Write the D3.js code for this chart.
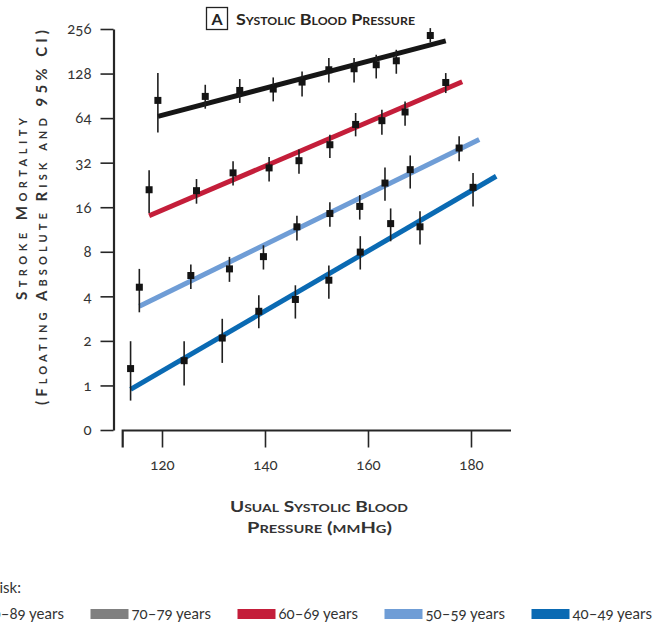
<!DOCTYPE html>
<html>
<head>
<meta charset="utf-8">
<script src="https://cdn.jsdelivr.net/npm/d3@7"></script>
<style>
  html, body { margin: 0; padding: 0; background: #fff; }
  svg { display: block; font-family: Lato, "Open Sans", sans-serif; }
</style>
</head>
<body>
<svg id="chart" width="662" height="630"></svg>
<script>
// ---------- data ----------
const seriesNames = ["70–79 years", "60–69 years", "50–59 years", "40–49 years"];
const lineColors = ["#161616", "#c41e3a", "#6f9dd6", "#0a6ab3"];

const sbp70 = [119.2, 128.4, 135.1, 141.6, 147.2, 152.4, 157.3, 161.6, 165.5, 172.1];
const risk70 = [84.3, 89.7, 98.4, 100.6, 112.1, 135.8, 137.9, 146.8, 156.2, 231.4];
const lo70 = [51.2, 74.1, 81.0, 83.0, 89.7, 111.4, 111.4, 118.6, 127.6, 207.6];
const hi70 = [129, 107.5, 117.5, 120.5, 132.2, 162.9, 162.9, 171.5, 185.3, 259.6];
const fitX70 = [119.2, 175.1], fitY70 = [65.7, 213];

const sbp60 = [117.5, 126.7, 133.8, 140.8, 146.6, 152.6, 157.6, 162.7, 167.2, 175.1];
const risk60 = [21.0, 20.7, 27.3, 29.5, 33.0, 42.3, 58.0, 61.5, 70.4, 111.4];
const lo60 = [14.6, 16.9, 22.4, 23.9, 26.9, 34.4, 48.2, 49.5, 56.9, 94.5];
const hi60 = [28.4, 24.8, 32.7, 35.0, 39.2, 49.5, 69.3, 72.9, 82.9, 129];
const fitX60 = [117.5, 178.3], fitY60 = [14.0, 112.7];

const sbp50 = [115.6, 125.6, 133.1, 139.7, 146.2, 152.6, 158.4, 163.3, 168.2, 177.7];
const risk50 = [4.61, 5.53, 6.13, 7.42, 11.8, 14.5, 16.2, 23.3, 28.7, 40.2];
const lo50 = [3.12, 4.49, 5.01, 6.07, 9.52, 11.8, 13.2, 17.7, 21.4, 32.7];
const hi50 = [6.13, 6.56, 7.39, 8.85, 14.0, 17.3, 19.3, 29.7, 35.8, 48.2];
const fitX50 = [115.6, 181.6], fitY50 = [3.43, 45.8];

const sbp40 = [113.9, 124.3, 131.7, 138.8, 145.9, 152.4, 158.5, 164.4, 170.1, 180.4];
const risk40 = [1.30, 1.47, 2.09, 3.17, 3.81, 5.14, 7.96, 12.4, 11.8, 21.8];
const lo40 = [0.79, 1.0, 1.42, 2.43, 2.83, 3.85, 6.07, 9.42, 8.95, 16.2];
const hi40 = [1.99, 1.99, 2.82, 4.07, 4.75, 6.46, 10.2, 15.7, 15.0, 27.3];
const fitX40 = [113.9, 184.9], fitY40 = [0.94, 25.9];

const yTickValues = [0.5, 1, 2, 4, 8, 16, 32, 64, 128, 256];
const yTickLabels = ["0", "1", "2", "4", "8", "16", "32", "64", "128", "256"];
const xTickValues = [120, 140, 160, 180];

const legendLabels = ["80–89 years", "70–79 years", "60–69 years", "50–59 years", "40–49 years"];
const legendColors = ["#161616", "#808080", "#c41e3a", "#6f9dd6", "#0a6ab3"];

// ---------- build ----------
const series = [
  {sbp: sbp70, risk: risk70, lo: lo70, hi: hi70, fx: fitX70, fy: fitY70},
  {sbp: sbp60, risk: risk60, lo: lo60, hi: hi60, fx: fitX60, fy: fitY60},
  {sbp: sbp50, risk: risk50, lo: lo50, hi: hi50, fx: fitX50, fy: fitY50},
  {sbp: sbp40, risk: risk40, lo: lo40, hi: hi40, fx: fitX40, fy: fitY40}
].map((s, i) => ({
  name: seriesNames[i], color: lineColors[i],
  points: s.sbp.map((x, j) => ({x, y: s.risk[j], lo: s.lo[j], hi: s.hi[j]})),
  fit: s.fx.map((x, j) => ({x, y: s.fy[j]}))
}));

const svg = d3.select("#chart");
const axisColor = "#262626";

const x = d3.scaleLinear().domain([112.37, 187.77]).range([122.7, 511]);
const y = d3.scaleLog().base(2).domain([0.5, 256]).range([430, 29]);

// Y axis
const yAxisX = 113.5;
const gy = svg.append("g").attr("transform", `translate(${yAxisX},0)`)
  .call(d3.axisLeft(y).tickValues(yTickValues)
    .tickFormat((d, i) => yTickLabels[i]).tickSize(13).tickSizeOuter(0).tickPadding(9));
gy.select(".domain").attr("stroke", axisColor).attr("stroke-width", 2.2);
gy.selectAll(".tick line").attr("stroke", axisColor).attr("stroke-width", 1.6);
gy.selectAll(".tick text").attr("fill", "#333").attr("font-size", 15)
  .style("font-variant-numeric", "oldstyle-nums").attr("font-family", "Lato, sans-serif");

// X axis
const xAxisY = 430.5;
const gx = svg.append("g").attr("transform", `translate(0,${xAxisY})`)
  .call(d3.axisBottom(x).tickValues(xTickValues).tickFormat(d3.format("d"))
    .tickSize(17).tickSizeOuter(0).tickPadding(12));
gx.select(".domain").attr("stroke", axisColor).attr("stroke-width", 2.2)
  .attr("d", `M${x.range()[0]},17V0H${x.range()[1]}`);
gx.selectAll(".tick line").attr("stroke", axisColor).attr("stroke-width", 1.6);
gx.selectAll(".tick text").attr("fill", "#333").attr("font-size", 15)
  .style("font-variant-numeric", "oldstyle-nums").attr("font-family", "Lato, sans-serif");

// Fit lines
const line = d3.line().x(d => x(d.x)).y(d => y(d.y));
svg.append("g").selectAll("path").data(series).join("path")
  .attr("d", d => line(d.fit))
  .attr("fill", "none").attr("stroke", d => d.color)
  .attr("stroke-width", 5);

// Error bars & points
const pts = svg.append("g").selectAll("g").data(series).join("g");
pts.selectAll("line").data(d => d.points).join("line")
  .attr("x1", d => x(d.x)).attr("x2", d => x(d.x))
  .attr("y1", d => y(d.lo)).attr("y2", d => y(d.hi))
  .attr("stroke", "#1e1e1e").attr("stroke-width", 1.6);
pts.selectAll("rect").data(d => d.points).join("rect")
  .attr("x", d => x(d.x) - 3.5).attr("y", d => y(d.y) - 3.5)
  .attr("width", 7).attr("height", 7).attr("fill", "#141414");

// Title
svg.append("rect").attr("x", 206.5).attr("y", 7.5).attr("width", 21).attr("height", 22)
  .attr("fill", "none").attr("stroke", "#222").attr("stroke-width", 1.3);
svg.append("text").attr("x", 217).attr("y", 25).attr("text-anchor", "middle")
  .attr("font-size", 16).attr("font-weight", 700).attr("fill", "#222").text("A");
svg.append("text").attr("x", 236).attr("y", 25)
  .attr("font-size", 16).attr("font-weight", 700).attr("fill", "#2a2520")
  .style("font-variant", "small-caps")
  .attr("textLength", 179).attr("lengthAdjust", "spacingAndGlyphs")
  .text("Systolic Blood Pressure");

// Y axis title
const yTitle = svg.append("g").attr("transform", "translate(0,0)");
yTitle.append("text").attr("transform", "translate(27,209) rotate(-90)")
  .attr("text-anchor", "middle").attr("font-size", 15).attr("font-weight", 700)
  .attr("fill", "#333").style("font-variant", "small-caps")
  .attr("textLength", 182).attr("lengthAdjust", "spacing")
  .text("Stroke Mortality");
yTitle.append("text").attr("transform", "translate(47,217.5) rotate(-90)")
  .attr("text-anchor", "middle").attr("font-size", 15).attr("font-weight", 700)
  .attr("fill", "#333").style("font-variant", "small-caps")
  .attr("textLength", 375).attr("lengthAdjust", "spacing")
  .text("(Floating Absolute Risk and 95% CI)");

// X axis title
svg.append("text").attr("x", 319).attr("y", 512).attr("text-anchor", "middle")
  .attr("font-size", 15).attr("font-weight", 700).attr("fill", "#333")
  .style("font-variant", "small-caps")
  .attr("textLength", 178).attr("lengthAdjust", "spacingAndGlyphs")
  .text("Usual Systolic Blood");
svg.append("text").attr("x", 319.5).attr("y", 533).attr("text-anchor", "middle")
  .attr("font-size", 15).attr("font-weight", 700).attr("fill", "#333")
  .style("font-variant", "small-caps")
  .attr("textLength", 145).attr("lengthAdjust", "spacingAndGlyphs")
  .text("Pressure (mmHg)");

// Legend
svg.append("text").attr("x", 21).attr("y", 593).attr("text-anchor", "end")
  .attr("font-size", 15).attr("fill", "#333").text("Age at risk:");
const legStart = -56.5, legStep = 147;
const leg = svg.append("g").selectAll("g").data(legendLabels).join("g")
  .attr("transform", (d, i) => `translate(${legStart + i * legStep},0)`);
leg.append("rect").attr("x", 0).attr("y", 609).attr("width", 38).attr("height", 10)
  .attr("fill", (d, i) => legendColors[i]);
leg.append("text").attr("x", 41).attr("y", 619).attr("font-size", 15)
  .attr("fill", "#333").style("font-variant-numeric", "oldstyle-nums").text(d => d);
</script>
</body>
</html>
